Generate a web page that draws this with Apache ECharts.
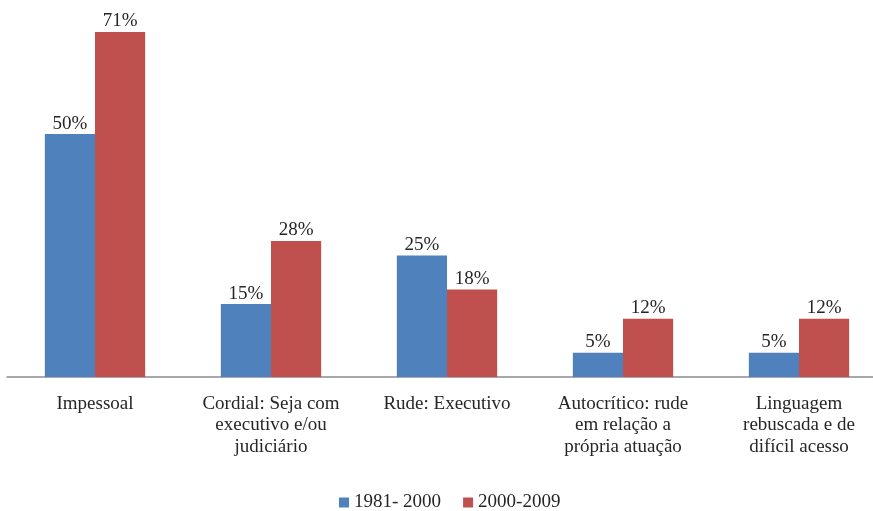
<!DOCTYPE html>
<html>
<head>
<meta charset="utf-8">
<script src="https://cdn.jsdelivr.net/npm/echarts@6/dist/echarts.min.js"></script>
<style>
  html, body { margin: 0; padding: 0; background: #fff; overflow: hidden; }
  /* the plot runs a little past the right edge of the window, so the canvas is wider */
  #chart { width: 887px; height: 511px; }
</style>
</head>
<body>
<div id="chart"></div>
<script>
// Categories of discourse style, values in percent per period
const categories = [
  'Impessoal',
  'Cordial: Seja com\nexecutivo e/ou\njudiciário',
  'Rude: Executivo',
  'Autocrítico: rude\nem relação a\nprópria atuação',
  'Linguagem\nrebuscada e de\ndifícil acesso'
];
const seriesNames = ['1981- 2000', '2000-2009'];
const values1981 = [50, 15, 25, 5, 5];
const values2000 = [71, 28, 18, 12, 12];

const FONT = '"Liberation Serif", "DejaVu Serif", serif';

const chart = echarts.init(document.getElementById('chart'));

const labelStyle = {
  show: true,
  position: 'top',
  distance: 1,
  formatter: p => p.value + '%',
  fontFamily: FONT,
  fontSize: 19,
  color: '#262626'
};

chart.setOption({
  animation: false,
  grid: { left: 7, top: 32, right: 0, bottom: 134, containLabel: false },
  legend: {
    data: seriesNames,
    top: 488,
    left: 334,
    itemWidth: 10,
    itemHeight: 10,
    itemGap: 22,
    icon: 'rect',
    textStyle: { fontFamily: FONT, fontSize: 19, color: '#262626' }
  },
  xAxis: {
    type: 'category',
    data: categories,
    axisLine: { lineStyle: { color: '#8c8c8c', width: 1.5 } },
    axisTick: { show: false },
    axisLabel: {
      interval: 0,
      margin: 16,
      fontFamily: FONT,
      fontSize: 19,
      lineHeight: 21.5,
      color: '#262626'
    }
  },
  yAxis: {
    type: 'value',
    min: 0,
    max: 71,
    show: false,
    splitLine: { show: false }
  },
  series: [
    {
      name: seriesNames[0],
      type: 'bar',
      data: values1981,
      barGap: '0%',
      barCategoryGap: '43%',
      itemStyle: { color: '#4F81BD' },
      label: labelStyle
    },
    {
      name: seriesNames[1],
      type: 'bar',
      data: values2000,
      itemStyle: { color: '#C0504D' },
      label: labelStyle
    }
  ]
});
</script>
</body>
</html>
